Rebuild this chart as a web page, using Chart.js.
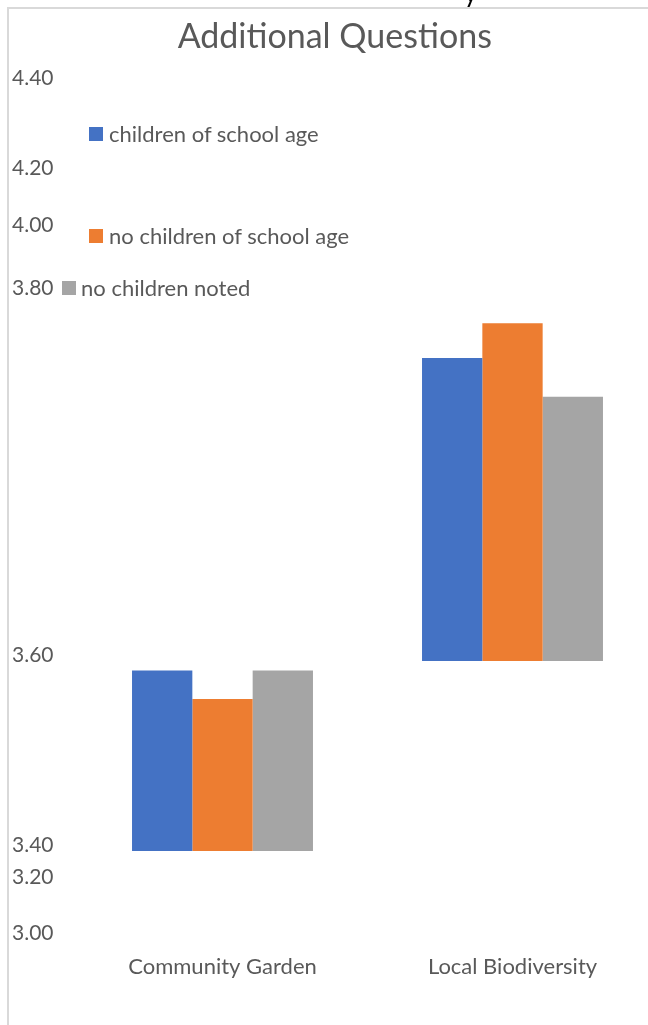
<!DOCTYPE html>
<html>
<head>
<meta charset="utf-8">
<title>Additional Questions</title>
<script src="https://cdn.jsdelivr.net/npm/chart.js@4.4.1/dist/chart.umd.min.js"></script>
<style>
    html, body { margin: 0; padding: 0; background: #fff; overflow: hidden; }
    body { width: 648px; height: 1025px; position: relative; font-family: Lato, sans-serif; }
    #chart { position: absolute; left: 0; top: 0; }
    .frame {
        position: absolute; left: 7px; top: 7px; width: 700px; height: 1100px;
        border-left: 2px solid #d9d9d9; border-top: 2px solid #d9d9d9;
        pointer-events: none;
    }
    .cut-text { position: absolute; left: 464px; top: -24px; font-size: 26px; color: #000; }
    .legend-item {
        position: absolute; display: flex; align-items: center;
        font-size: 22px; line-height: 1; color: #595959; white-space: nowrap;
    }
    .legend-item .box { display: inline-block; width: 14px; height: 14px; }
</style>
</head>
<body>
<canvas id="chart" width="666" height="1025"></canvas>
<div class="frame"></div>
<div class="cut-text">y</div>
<div id="legend"></div>
<script>
// ========================================
// Data
// ========================================
const categories = ['Community Garden', 'Local Biodiversity'];
const seriesNames = ['children of school age', 'no children of school age', 'no children noted'];
const seriesColors = ['#4472c4', '#ed7d31', '#a5a5a5'];

// each group of bars starts from its own base
const groupBase = [3.40, 3.60];
const schoolAge = [3.59, 3.765];
const noSchoolAge = [3.56, 3.784];
const notNoted = [3.59, 3.744];

const tickValues = [3.00, 3.20, 3.40, 3.60, 3.80, 4.00, 4.20, 4.40];

// ========================================
// Layout
// ========================================
// the source axis is stretched unevenly: where each tick sits (0 = top, 1 = bottom)
const tickStops = [1, 0.9345, 0.8971, 0.6749, 0.2456, 0.1719, 0.1053, 0];
// legend boxes: [left, top]
const legendSpots = [[89, 128], [89, 230], [62, 282]];
const legendGaps = [6, 6, 5];

/**
 * Piecewise linear y scale that follows tickStops
 */
class StretchedScale extends Chart.LinearScale {
    getPixelForValue(value) {
        let i = 0;
        while (i < tickValues.length - 2 && value > tickValues[i + 1]) i++;
        const t = (value - tickValues[i]) / (tickValues[i + 1] - tickValues[i]);
        const f = tickStops[i] + t * (tickStops[i + 1] - tickStops[i]);
        return this.top + f * (this.bottom - this.top);
    }

    getValueForPixel(pixel) {
        const f = (pixel - this.top) / (this.bottom - this.top);
        let i = 0;
        while (i < tickStops.length - 2 && f < tickStops[i + 1]) i++;
        const t = (f - tickStops[i]) / (tickStops[i + 1] - tickStops[i]);
        return tickValues[i] + t * (tickValues[i + 1] - tickValues[i]);
    }
}
StretchedScale.id = 'stretched';
StretchedScale.defaults = Chart.LinearScale.defaults;
Chart.register(StretchedScale);

const seriesValues = [schoolAge, noSchoolAge, notNoted];

const chart = new Chart(document.getElementById('chart'), {
    type: 'bar',
    data: {
        labels: categories,
        datasets: seriesNames.map((name, s) => ({
            label: name,
            data: categories.map((c, i) => [groupBase[i], seriesValues[s][i]]),
            backgroundColor: seriesColors[s],
            borderWidth: 0,
            categoryPercentage: 0.624,
            barPercentage: 1.0
        }))
    },
    options: {
        responsive: false,
        animation: false,
        layout: { padding: { left: 12, right: 8.5, top: 0, bottom: 0 } },
        plugins: {
            legend: { display: false },
            tooltip: { enabled: false },
            title: {
                display: true,
                text: 'Additional Questions',
                color: '#595959',
                font: { family: 'Lato', size: 34, weight: 'normal' },
                padding: { top: 17, bottom: 26 }
            }
        },
        scales: {
            x: {
                grid: { display: false, drawTicks: false },
                border: { display: false },
                ticks: { color: '#595959', font: { family: 'Lato', size: 22 }, padding: 15 },
                afterFit: function(scale) { scale.height = 86; }
            },
            y: {
                type: 'stretched',
                min: 3.0,
                max: 4.4,
                grid: { display: false, drawTicks: false },
                border: { display: false },
                afterBuildTicks: function(scale) {
                    scale.ticks = tickValues.map(v => ({ value: v }));
                },
                afterFit: function(scale) { scale.width = 65.5; },
                ticks: {
                    color: '#595959',
                    font: { family: 'Lato', size: 21 },
                    crossAlign: 'far',
                    labelOffset: -6,
                    padding: 0,
                    autoSkip: false,
                    callback: function(value) { return Number(value).toFixed(2); }
                }
            }
        }
    }
});

// Legend built from the datasets, placed like the original
const legendBox = document.getElementById('legend');
chart.data.datasets.forEach((ds, i) => {
    const item = document.createElement('div');
    item.className = 'legend-item';
    item.style.left = legendSpots[i][0] + 'px';
    item.style.top = (legendSpots[i][1] - 4) + 'px';
    item.style.height = '20px';
    item.innerHTML = `<span class="box" style="background:${ds.backgroundColor};margin-right:${legendGaps[i]}px"></span>${ds.label}`;
    legendBox.appendChild(item);
});
</script>
</body>
</html>
